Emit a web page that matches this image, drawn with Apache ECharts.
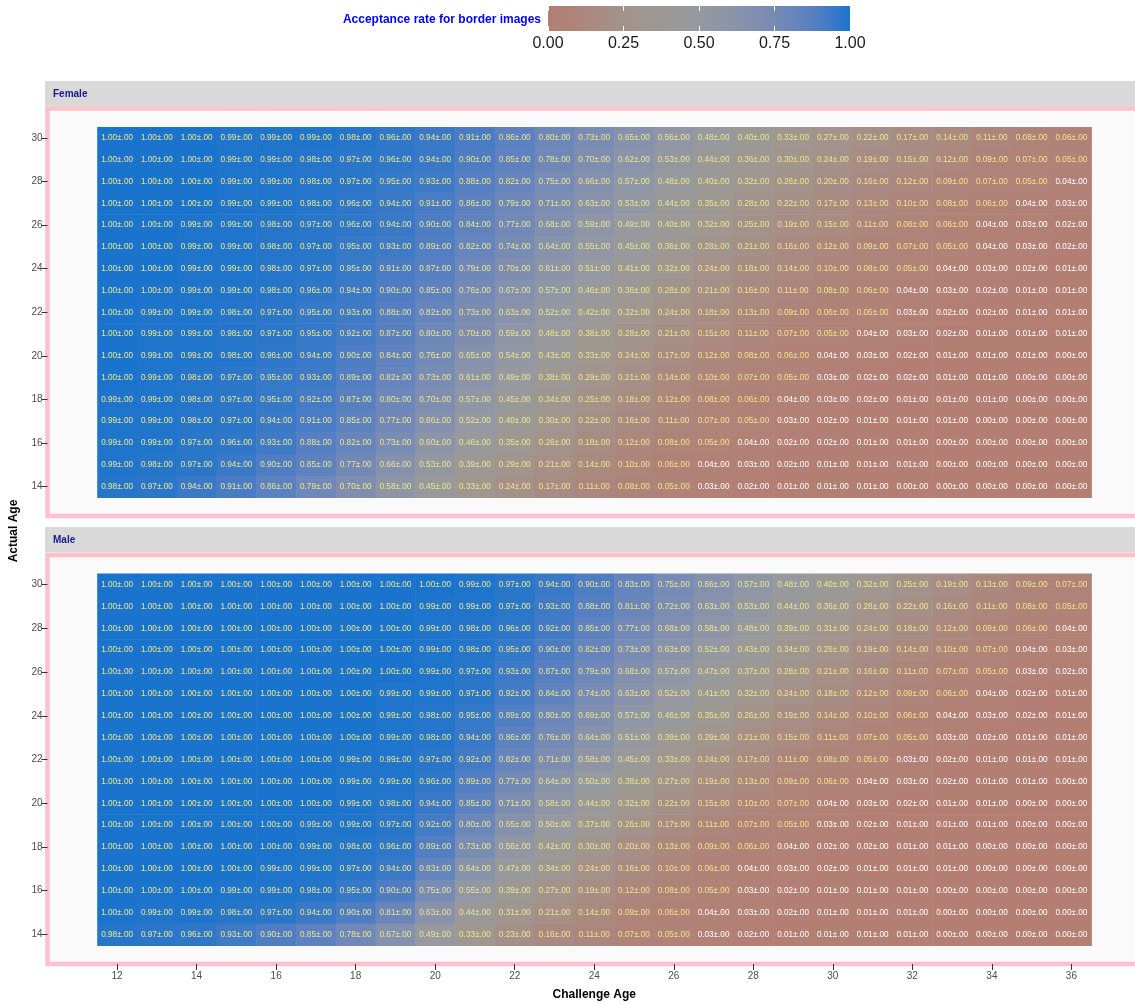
<!DOCTYPE html>
<html>
<head>
<meta charset="utf-8">
<script src="https://cdn.jsdelivr.net/npm/echarts@6/dist/echarts.min.js"></script>
<style>html,body{margin:0;padding:0;background:#fff;overflow:hidden;width:1135px;height:1004px}#c{width:1160px;height:1004px}</style>
</head>
<body>
<div id="c"></div>
<script>
// Challenge ages (columns) and actual ages (rows, top to bottom)
const challengeAges = [12,13,14,15,16,17,18,19,20,21,22,23,24,25,26,27,28,29,30,31,32,33,34,35,36];
const actualAges = [30,29,28,27,26,25,24,23,22,21,20,19,18,17,16,15,14];
const xTickLabels = [12,14,16,18,20,22,24,26,28,30,32,34,36];
const yTickLabels = [14,16,18,20,22,24,26,28,30];
const legendTicks = [0,0.25,0.5,0.75,1];
const panels = ['Female','Male'];

const female = [
[1.00,1.00,1.00,0.99,0.99,0.99,0.98,0.96,0.94,0.91,0.86,0.80,0.73,0.65,0.56,0.48,0.40,0.33,0.27,0.22,0.17,0.14,0.11,0.08,0.06],
[1.00,1.00,1.00,0.99,0.99,0.98,0.97,0.96,0.94,0.90,0.85,0.78,0.70,0.62,0.53,0.44,0.36,0.30,0.24,0.19,0.15,0.12,0.09,0.07,0.05],
[1.00,1.00,1.00,0.99,0.99,0.98,0.97,0.95,0.93,0.88,0.82,0.75,0.66,0.57,0.48,0.40,0.32,0.26,0.20,0.16,0.12,0.09,0.07,0.05,0.04],
[1.00,1.00,1.00,0.99,0.99,0.98,0.96,0.94,0.91,0.86,0.79,0.71,0.63,0.53,0.44,0.35,0.28,0.22,0.17,0.13,0.10,0.08,0.06,0.04,0.03],
[1.00,1.00,0.99,0.99,0.98,0.97,0.96,0.94,0.90,0.84,0.77,0.68,0.59,0.49,0.40,0.32,0.25,0.19,0.15,0.11,0.08,0.06,0.04,0.03,0.02],
[1.00,1.00,0.99,0.99,0.98,0.97,0.95,0.93,0.89,0.82,0.74,0.64,0.55,0.45,0.36,0.28,0.21,0.16,0.12,0.09,0.07,0.05,0.04,0.03,0.02],
[1.00,1.00,0.99,0.99,0.98,0.97,0.95,0.91,0.87,0.79,0.70,0.61,0.51,0.41,0.32,0.24,0.18,0.14,0.10,0.08,0.05,0.04,0.03,0.02,0.01],
[1.00,1.00,0.99,0.99,0.98,0.96,0.94,0.90,0.85,0.76,0.67,0.57,0.46,0.36,0.28,0.21,0.16,0.11,0.08,0.06,0.04,0.03,0.02,0.01,0.01],
[1.00,0.99,0.99,0.98,0.97,0.95,0.93,0.88,0.82,0.73,0.63,0.52,0.42,0.32,0.24,0.18,0.13,0.09,0.06,0.05,0.03,0.02,0.02,0.01,0.01],
[1.00,0.99,0.99,0.98,0.97,0.95,0.92,0.87,0.80,0.70,0.59,0.48,0.38,0.28,0.21,0.15,0.11,0.07,0.05,0.04,0.03,0.02,0.01,0.01,0.01],
[1.00,0.99,0.99,0.98,0.96,0.94,0.90,0.84,0.76,0.65,0.54,0.43,0.33,0.24,0.17,0.12,0.08,0.06,0.04,0.03,0.02,0.01,0.01,0.01,0.00],
[1.00,0.99,0.98,0.97,0.95,0.93,0.89,0.82,0.73,0.61,0.49,0.38,0.29,0.21,0.14,0.10,0.07,0.05,0.03,0.02,0.02,0.01,0.01,0.00,0.00],
[0.99,0.99,0.98,0.97,0.95,0.92,0.87,0.80,0.70,0.57,0.45,0.34,0.25,0.18,0.12,0.08,0.06,0.04,0.03,0.02,0.01,0.01,0.01,0.00,0.00],
[0.99,0.99,0.98,0.97,0.94,0.91,0.85,0.77,0.66,0.52,0.40,0.30,0.22,0.16,0.11,0.07,0.05,0.03,0.02,0.01,0.01,0.01,0.00,0.00,0.00],
[0.99,0.99,0.97,0.96,0.93,0.88,0.82,0.73,0.60,0.46,0.35,0.26,0.18,0.12,0.08,0.05,0.04,0.02,0.02,0.01,0.01,0.00,0.00,0.00,0.00],
[0.99,0.98,0.97,0.94,0.90,0.85,0.77,0.66,0.53,0.39,0.29,0.21,0.14,0.10,0.06,0.04,0.03,0.02,0.01,0.01,0.01,0.00,0.00,0.00,0.00],
[0.98,0.97,0.94,0.91,0.86,0.79,0.70,0.58,0.45,0.33,0.24,0.17,0.11,0.08,0.05,0.03,0.02,0.01,0.01,0.01,0.00,0.00,0.00,0.00,0.00]
];

const male = [
[1.00,1.00,1.00,1.00,1.00,1.00,1.00,1.00,1.00,0.99,0.97,0.94,0.90,0.83,0.75,0.66,0.57,0.48,0.40,0.32,0.25,0.19,0.13,0.09,0.07],
[1.00,1.00,1.00,1.00,1.00,1.00,1.00,1.00,0.99,0.99,0.97,0.93,0.88,0.81,0.72,0.63,0.53,0.44,0.36,0.28,0.22,0.16,0.11,0.08,0.05],
[1.00,1.00,1.00,1.00,1.00,1.00,1.00,1.00,0.99,0.98,0.96,0.92,0.85,0.77,0.68,0.58,0.48,0.39,0.31,0.24,0.18,0.12,0.09,0.06,0.04],
[1.00,1.00,1.00,1.00,1.00,1.00,1.00,1.00,0.99,0.98,0.95,0.90,0.82,0.73,0.63,0.52,0.43,0.34,0.26,0.19,0.14,0.10,0.07,0.04,0.03],
[1.00,1.00,1.00,1.00,1.00,1.00,1.00,1.00,0.99,0.97,0.93,0.87,0.79,0.68,0.57,0.47,0.37,0.28,0.21,0.16,0.11,0.07,0.05,0.03,0.02],
[1.00,1.00,1.00,1.00,1.00,1.00,1.00,0.99,0.99,0.97,0.92,0.84,0.74,0.63,0.52,0.41,0.32,0.24,0.18,0.12,0.09,0.06,0.04,0.02,0.01],
[1.00,1.00,1.00,1.00,1.00,1.00,1.00,0.99,0.98,0.95,0.89,0.80,0.69,0.57,0.46,0.35,0.26,0.19,0.14,0.10,0.06,0.04,0.03,0.02,0.01],
[1.00,1.00,1.00,1.00,1.00,1.00,1.00,0.99,0.98,0.94,0.86,0.76,0.64,0.51,0.39,0.29,0.21,0.15,0.11,0.07,0.05,0.03,0.02,0.01,0.01],
[1.00,1.00,1.00,1.00,1.00,1.00,0.99,0.99,0.97,0.92,0.82,0.71,0.58,0.45,0.33,0.24,0.17,0.11,0.08,0.05,0.03,0.02,0.01,0.01,0.01],
[1.00,1.00,1.00,1.00,1.00,1.00,0.99,0.99,0.96,0.89,0.77,0.64,0.50,0.38,0.27,0.19,0.13,0.09,0.06,0.04,0.03,0.02,0.01,0.01,0.00],
[1.00,1.00,1.00,1.00,1.00,1.00,0.99,0.98,0.94,0.85,0.71,0.58,0.44,0.32,0.22,0.15,0.10,0.07,0.04,0.03,0.02,0.01,0.01,0.00,0.00],
[1.00,1.00,1.00,1.00,1.00,0.99,0.99,0.97,0.92,0.80,0.65,0.50,0.37,0.26,0.17,0.11,0.07,0.05,0.03,0.02,0.01,0.01,0.01,0.00,0.00],
[1.00,1.00,1.00,1.00,1.00,0.99,0.98,0.96,0.89,0.73,0.56,0.42,0.30,0.20,0.13,0.09,0.06,0.04,0.02,0.02,0.01,0.01,0.00,0.00,0.00],
[1.00,1.00,1.00,1.00,0.99,0.99,0.97,0.94,0.83,0.64,0.47,0.34,0.24,0.16,0.10,0.06,0.04,0.03,0.02,0.01,0.01,0.01,0.00,0.00,0.00],
[1.00,1.00,1.00,0.99,0.99,0.98,0.95,0.90,0.75,0.55,0.39,0.27,0.19,0.12,0.08,0.05,0.03,0.02,0.01,0.01,0.01,0.00,0.00,0.00,0.00],
[1.00,0.99,0.99,0.98,0.97,0.94,0.90,0.81,0.63,0.44,0.31,0.21,0.14,0.09,0.06,0.04,0.03,0.02,0.01,0.01,0.01,0.00,0.00,0.00,0.00],
[0.98,0.97,0.96,0.93,0.90,0.85,0.78,0.67,0.49,0.33,0.23,0.16,0.11,0.07,0.05,0.03,0.02,0.01,0.01,0.01,0.01,0.00,0.00,0.00,0.00]
];

// --- styling ---
const FONT = '"Liberation Sans", Arial, Helvetica, sans-serif';
const colorStops = ['#b47e72','#ad857b','#a68e86','#a0968e','#9b9996','#9599a0','#8c94a8','#7f8eb0','#6c87ba','#4f7dc4','#1a74cd'];

function toTriples(rows) {
  const out = [];
  rows.forEach((row, ri) => row.forEach((v, ci) => out.push([challengeAges[ci], actualAges[ri], v])));
  return out;
}

function renderCell(params, api) {
  const x = api.value(0), y = api.value(1), v = api.value(2);
  const p0 = api.coord([x - 0.5, y + 0.5]);
  const p1 = api.coord([x + 0.5, y - 0.5]);
  return {
    type: 'group',
    children: [
      { type: 'rect', shape: { x: p0[0], y: p0[1], width: p1[0] - p0[0] + 0.6, height: p1[1] - p0[1] + 0.6 },
        style: { fill: api.visual('color') } },
      { type: 'text', x: (p0[0] + p1[0]) / 2, y: (p0[1] + p1[1]) / 2,
        style: { text: v.toFixed(2) + '±.00', fill: v >= 0.05 ? '#f0e68c' : '#ffffff',
                 align: 'center', verticalAlign: 'middle', font: '8.2px ' + FONT } }
    ]
  };
}

const gridL = 47.5, gridW = 1093.5;
const grids = [
  { left: gridL, width: gridW, top: 108.5, height: 407.5, show: true, backgroundColor: '#fafafa', borderColor: '#ffc0cb', borderWidth: 4.5 },
  { left: gridL, width: gridW, top: 555, height: 409, show: true, backgroundColor: '#fafafa', borderColor: '#ffc0cb', borderWidth: 4.5 },
  { left: 548, width: 302, top: 6, height: 25, show: true, borderWidth: 0,
    backgroundColor: { type: 'linear', x: 0, y: 0, x2: 1, y2: 0,
      colorStops: colorStops.map((c, i) => ({ offset: i / (colorStops.length - 1), color: c })) } }
];

const xBase = (gi, showLabels) => ({
  type: 'value', gridIndex: gi, min: 10.25, max: 37.75,
  axisLine: { show: false },
  axisTick: { show: showLabels, length: 6, lineStyle: { color: '#333', width: 1 }, customValues: xTickLabels },
  axisLabel: { show: showLabels, customValues: xTickLabels, color: '#4d4d4d', fontSize: 10, fontFamily: FONT, margin: 7 },
  splitLine: { show: false }
});
const yBase = (gi) => ({
  type: 'value', gridIndex: gi, min: 12.65, max: 31.35,
  axisLine: { show: false },
  axisTick: { show: true, length: 6, lineStyle: { color: '#333', width: 1 }, customValues: yTickLabels },
  axisLabel: { customValues: yTickLabels, color: '#4d4d4d', fontSize: 10, fontFamily: FONT, margin: 5 },
  splitLine: { show: false }
});

const xAxes = [
  xBase(0, false),
  Object.assign(xBase(1, true), { name: 'Challenge Age', nameLocation: 'middle', nameGap: 25,
    nameTextStyle: { fontWeight: 'bold', fontSize: 12, color: '#000', fontFamily: FONT } }),
  { type: 'value', gridIndex: 2, min: 0, max: 1, interval: 0.25, axisLine: { show: false },
    axisTick: { show: true, inside: true, length: 5, lineStyle: { color: '#fff', width: 1 } },
    axisLabel: { color: '#1a1a1a', fontSize: 16, fontFamily: FONT, margin: 5, formatter: v => v.toFixed(2) },
    splitLine: { show: false } },
  { type: 'value', gridIndex: 2, position: 'top', min: 0, max: 1, interval: 0.25, axisLine: { show: false },
    axisTick: { show: true, inside: true, length: 5, lineStyle: { color: '#fff', width: 1 } },
    axisLabel: { show: false }, splitLine: { show: false } }
];
const yAxes = [ yBase(0), yBase(1), { type: 'value', gridIndex: 2, min: 0, max: 1, show: false } ];

const option = {
  backgroundColor: '#ffffff',
  animation: false,
  grid: grids,
  xAxis: xAxes,
  yAxis: yAxes,
  visualMap: { type: 'continuous', show: false, min: 0, max: 1, dimension: 2, seriesIndex: [0, 1],
    inRange: { color: colorStops } },
  series: [
    { type: 'custom', name: panels[0], xAxisIndex: 0, yAxisIndex: 0, data: toTriples(female), renderItem: renderCell, encode: { x: 0, y: 1 } },
    { type: 'custom', name: panels[1], xAxisIndex: 1, yAxisIndex: 1, data: toTriples(male), renderItem: renderCell, encode: { x: 0, y: 1 } }
  ],
  graphic: [
    { type: 'text', x: 541, y: 20, style: { text: 'Acceptance rate for border images', fill: '#0000ff',
      font: 'bold 12px ' + FONT, align: 'right', verticalAlign: 'middle' } },
    { type: 'rect', x: 45, y: 81, shape: { width: 1120, height: 25.5 }, style: { fill: '#d9d9d9' } },
    { type: 'text', x: 53, y: 94.5, style: { text: panels[0], fill: '#1a1a8a', font: 'bold 10px ' + FONT, verticalAlign: 'middle' } },
    { type: 'rect', x: 45, y: 527, shape: { width: 1120, height: 25.5 }, style: { fill: '#d9d9d9' } },
    { type: 'text', x: 53, y: 540.5, style: { text: panels[1], fill: '#1a1a8a', font: 'bold 10px ' + FONT, verticalAlign: 'middle' } },
    { type: 'text', x: 14, y: 531, rotation: Math.PI / 2, style: { text: 'Actual Age', fill: '#000',
      font: 'bold 12px ' + FONT, align: 'center', verticalAlign: 'middle' } }
  ]
};

const chart = echarts.init(document.getElementById('c'), null, { renderer: 'canvas', width: 1160, height: 1004 });
chart.setOption(option);
</script>
</body>
</html>
